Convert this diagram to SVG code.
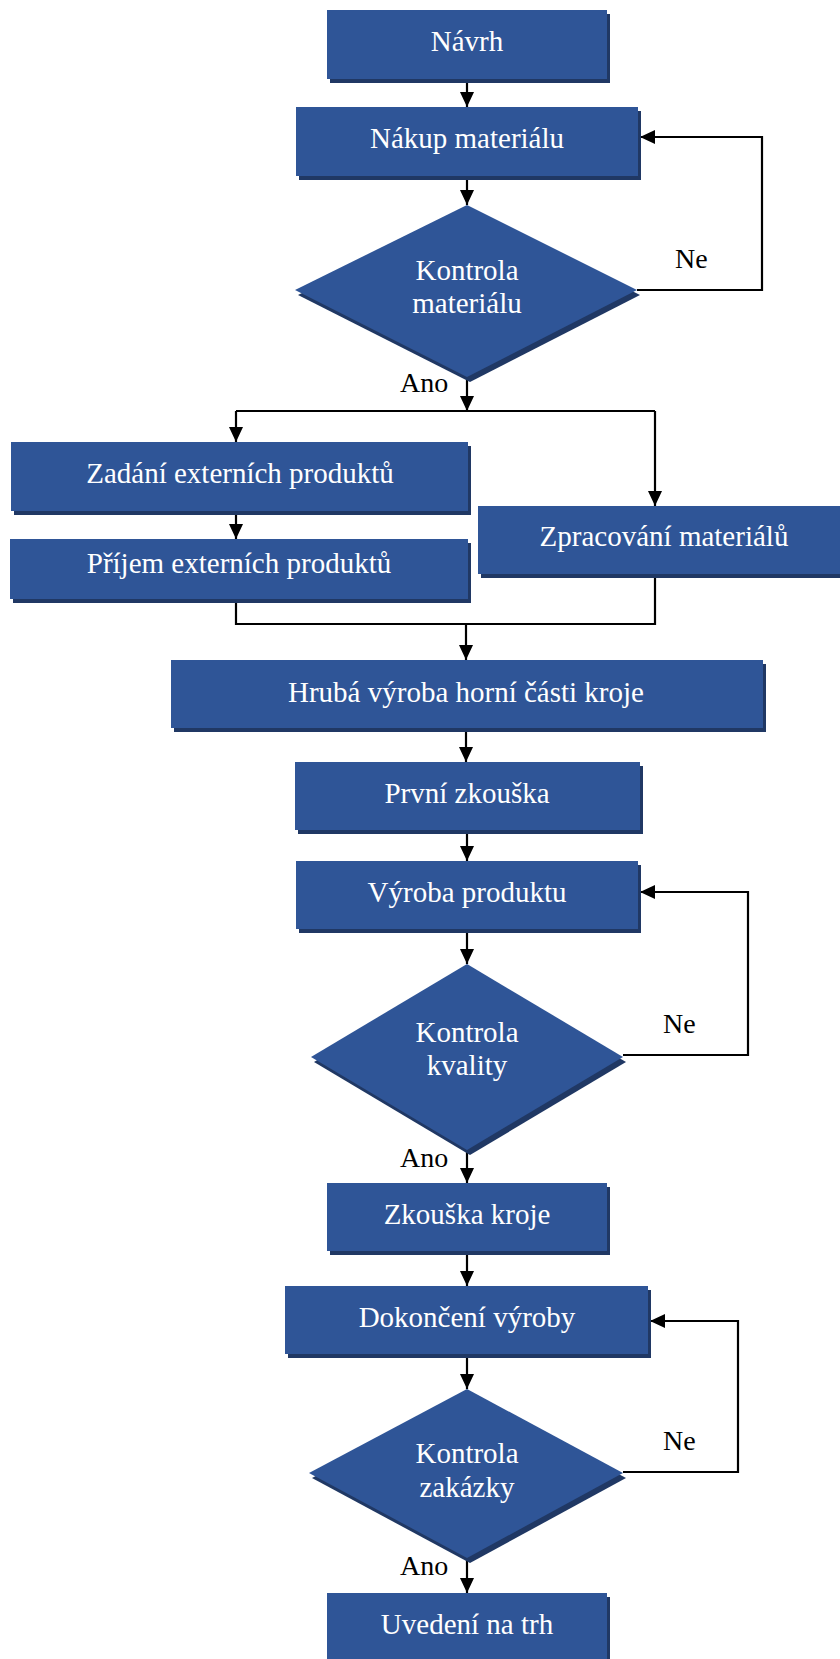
<svg xmlns="http://www.w3.org/2000/svg" width="840" height="1659" viewBox="0 0 840 1659">
<style>
.box{fill:#2F5597}
.sh{fill:#203864}
text{font-family:'Liberation Serif','Times New Roman','DejaVu Serif',serif}
.t{font-size:29px;fill:#ffffff;text-anchor:middle}
.lbl{font-size:28px;fill:#000000}
.c{fill:none;stroke:#000000;stroke-width:2.2}
</style>
<defs>
<marker id="ah" markerUnits="userSpaceOnUse" markerWidth="15" markerHeight="14" refX="15" refY="7" orient="auto">
<path d="M0,0 L15,7 L0,14 z" fill="#000000"/>
</marker>
</defs>
<rect width="840" height="1659" fill="#ffffff"/>
<g id="connectors">
<path class="c" d="M467,79 V107" marker-end="url(#ah)"/>
<path class="c" d="M467,176 V205" marker-end="url(#ah)"/>
<path class="c" d="M637,290 H762 V137 H640" marker-end="url(#ah)"/>
<path class="c" d="M467,377 V411" marker-end="url(#ah)"/>
<path class="c" d="M236,411 H655"/>
<path class="c" d="M236,411 V442" marker-end="url(#ah)"/>
<path class="c" d="M655,411 V506" marker-end="url(#ah)"/>
<path class="c" d="M236,511 V539" marker-end="url(#ah)"/>
<path class="c" d="M236,599 V624 H655 V574"/>
<path class="c" d="M466,624 V660" marker-end="url(#ah)"/>
<path class="c" d="M466,728 V762" marker-end="url(#ah)"/>
<path class="c" d="M467,830 V861" marker-end="url(#ah)"/>
<path class="c" d="M467,929 V964" marker-end="url(#ah)"/>
<path class="c" d="M623,1055 H748 V892 H640" marker-end="url(#ah)"/>
<path class="c" d="M467,1150 V1183" marker-end="url(#ah)"/>
<path class="c" d="M467,1251 V1286" marker-end="url(#ah)"/>
<path class="c" d="M467,1354 V1389" marker-end="url(#ah)"/>
<path class="c" d="M623,1472 H738 V1321 H650" marker-end="url(#ah)"/>
<path class="c" d="M467,1558 V1593" marker-end="url(#ah)"/>
</g>
<g id="labels">
<text class="lbl" x="675" y="268" font-family="Liberation Serif">Ne</text>
<text class="lbl" x="400" y="392" font-family="Liberation Serif">Ano</text>
<text class="lbl" x="663" y="1033" font-family="Liberation Serif">Ne</text>
<text class="lbl" x="400" y="1167" font-family="Liberation Serif">Ano</text>
<text class="lbl" x="663" y="1450" font-family="Liberation Serif">Ne</text>
<text class="lbl" x="400" y="1575" font-family="Liberation Serif">Ano</text>
</g>
<g id="n1"><rect class="sh" x="330" y="14" width="280" height="69"/><rect class="box" x="327" y="10" width="280" height="69"/><text class="t" x="467" y="51">Návrh</text></g>
<g id="n2"><rect class="sh" x="299" y="111" width="342" height="69"/><rect class="box" x="296" y="107" width="342" height="69"/><text class="t" x="467" y="148">Nákup materiálu</text></g>
<g id="d1"><polygon class="sh" points="470,210 640,295 470,382 298,295"/><polygon class="box" points="467,205 637,290 467,377 295,290"/><text class="t" x="467" y="280">Kontrola</text><text class="t" x="467" y="313">materiálu</text></g>
<g id="n3"><rect class="sh" x="14" y="446" width="457" height="69"/><rect class="box" x="11" y="442" width="457" height="69"/><text class="t" x="240" y="483">Zadání externích produktů</text></g>
<g id="n4"><rect class="sh" x="13" y="543" width="458" height="60"/><rect class="box" x="10" y="539" width="458" height="60"/><text class="t" x="239" y="573">Příjem externích produktů</text></g>
<g id="n5"><rect class="sh" x="481" y="510" width="372" height="68"/><rect class="box" x="478" y="506" width="372" height="68"/><text class="t" x="664" y="546">Zpracování materiálů</text></g>
<g id="n6"><rect class="sh" x="174" y="664" width="592" height="68"/><rect class="box" x="171" y="660" width="592" height="68"/><text class="t" x="466" y="702">Hrubá výroba horní části kroje</text></g>
<g id="n7"><rect class="sh" x="298" y="766" width="345" height="68"/><rect class="box" x="295" y="762" width="345" height="68"/><text class="t" x="467" y="803">První zkouška</text></g>
<g id="n8"><rect class="sh" x="299" y="865" width="342" height="68"/><rect class="box" x="296" y="861" width="342" height="68"/><text class="t" x="467" y="902">Výroba produktu</text></g>
<g id="d2"><polygon class="sh" points="470,969 626,1062 470,1155 314,1062"/><polygon class="box" points="467,964 623,1057 467,1150 311,1057"/><text class="t" x="467" y="1042">Kontrola</text><text class="t" x="467" y="1075">kvality</text></g>
<g id="n9"><rect class="sh" x="330" y="1187" width="280" height="68"/><rect class="box" x="327" y="1183" width="280" height="68"/><text class="t" x="467" y="1224">Zkouška kroje</text></g>
<g id="n10"><rect class="sh" x="288" y="1290" width="363" height="68"/><rect class="box" x="285" y="1286" width="363" height="68"/><text class="t" x="467" y="1327">Dokončení výroby</text></g>
<g id="d3"><polygon class="sh" points="470,1394 626,1478 470,1563 312,1478"/><polygon class="box" points="467,1389 623,1473 467,1558 309,1473"/><text class="t" x="467" y="1463">Kontrola</text><text class="t" x="467" y="1497">zakázky</text></g>
<g id="n11"><rect class="sh" x="330" y="1597" width="280" height="69"/><rect class="box" x="327" y="1593" width="280" height="69"/><text class="t" x="467" y="1634">Uvedení na trh</text></g>
</svg>
